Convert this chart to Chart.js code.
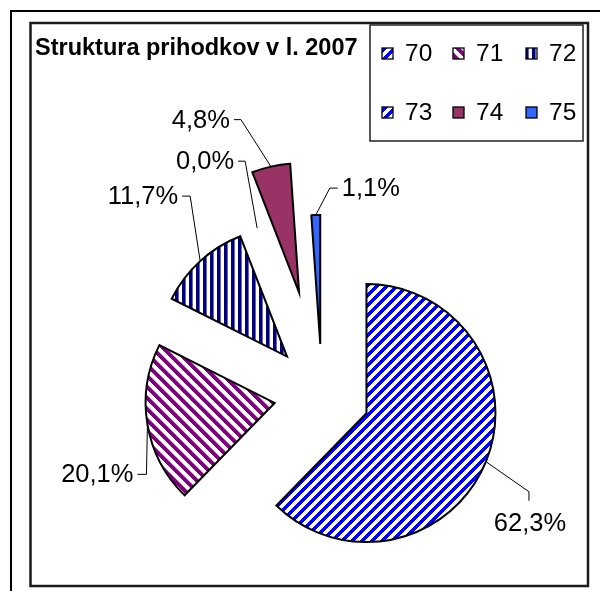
<!DOCTYPE html>
<html>
<head>
<meta charset="utf-8">
<script src="https://cdn.jsdelivr.net/npm/chart.js@4.4.1/dist/chart.umd.min.js"></script>
<style>
  html, body { margin: 0; padding: 0; background: #fff; }
  canvas { display: block; }
</style>
</head>
<body>
<canvas id="pie" width="600" height="591"></canvas>
<script>
// konti in deleži (v %)
const categories = ['70', '71', '72', '73', '74', '75'];
const shares = [62.3, 20.1, 11.7, 0.0, 4.8, 1.1];
const chartTitle = 'Struktura prihodkov v l. 2007';

// izvlek kosov in postavitev oznak (px)
const RADIUS = 129;
const explode = [48, 48, 52, 50, 105, 51];
const labelLayout = [
    { elbow: [43, 30], hook: [0, 9], align: 'center' },
    { elbow: [-1, 50], hook: [-9, 0], align: 'right' },
    { elbow: [-10, -65], hook: [-8, 0], align: 'right' },
    { elbow: [-12, -67], hook: [-7, 0], align: 'right' },
    { elbow: [-30, -47], hook: [-7, 0], align: 'right' },
    { elbow: [14, -27], hook: [8, 0], align: 'left' }
];

const FONT = '"Liberation Sans", Arial, sans-serif';

// črtasti vzorci, narisani po pikslih, da se ploščice lepo stikajo
function stripes(rgb, size, width, dir) {
    const c = document.createElement('canvas');
    c.width = size;
    c.height = size;
    const g = c.getContext('2d');
    const img = g.createImageData(size, size);
    for (let y = 0; y < size; y++) {
        for (let x = 0; x < size; x++) {
            let t;
            if (dir === 'v') t = x;
            else if (dir === '/') t = (x + y) % size;
            else t = (x - y + size) % size;
            // mehak rob
            const d = Math.min(Math.abs(t + 0.5 - width / 2), Math.abs(t + 0.5 - width / 2 - size));
            let a = Math.max(0, Math.min(1, width / 2 + 0.5 - d));
            const k = (y * size + x) * 4;
            img.data[k] = Math.round(255 + (rgb[0] - 255) * a);
            img.data[k + 1] = Math.round(255 + (rgb[1] - 255) * a);
            img.data[k + 2] = Math.round(255 + (rgb[2] - 255) * a);
            img.data[k + 3] = 255;
        }
    }
    g.putImageData(img, 0, 0);
    return g.createPattern(c, 'repeat');
}

const fills = [
    stripes([0, 0, 255], 10, 5, '/'),
    stripes([128, 0, 128], 11, 5.5, '\\'),
    stripes([0, 0, 128], 7, 3.6, 'v'),
    stripes([0, 0, 255], 10, 5, '/'),
    '#993366',
    '#3366ff'
];

function pct(v) {
    const total = shares.reduce((a, b) => a + b, 0);
    return (v / total * 100).toFixed(1).replace('.', ',') + '%';
}

// okvir, naslov in legenda
const framePlugin = {
    id: 'frame',
    beforeDraw(chart) {
        const ctx = chart.ctx;
        ctx.save();
        ctx.fillStyle = '#fff';
        ctx.fillRect(0, 0, chart.width, chart.height);
        ctx.strokeStyle = '#000';
        ctx.lineWidth = 2;
        ctx.strokeRect(11, 11, 640, 640);
        ctx.strokeStyle = '#1a1a1a';
        ctx.lineWidth = 2.5;
        ctx.strokeRect(30.5, 23, 557.5, 563);
        ctx.restore();
    },
    afterDraw(chart) {
        const ctx = chart.ctx;
        ctx.save();
        ctx.fillStyle = '#000';
        ctx.font = 'bold 23.5px ' + FONT;
        ctx.textBaseline = 'alphabetic';
        ctx.fillText(chartTitle, 35, 55);

        ctx.strokeStyle = '#222';
        ctx.lineWidth = 1.5;
        ctx.strokeRect(370, 25, 213, 116);

        const colX = [382, 453, 526];
        const rowY = [53.5, 112.5];
        ctx.font = '24.5px ' + FONT;
        ctx.textBaseline = 'middle';
        categories.forEach((cat, i) => {
            const x = colX[i % 3];
            const y = rowY[Math.floor(i / 3)];
            ctx.fillStyle = fills[i];
            ctx.fillRect(x, y - 5.5, 11, 11);
            ctx.strokeStyle = '#000';
            ctx.lineWidth = 1.3;
            ctx.strokeRect(x, y - 5.5, 11, 11);
            ctx.fillStyle = '#000';
            ctx.fillText(cat, x + 23, y + 1);
        });
        ctx.restore();
    }
};

// razmaknjeni kosi
const explodePlugin = {
    id: 'explode',
    beforeDatasetsDraw(chart) {
        const a = chart.chartArea;
        const cx = (a.left + a.right) / 2;
        const cy = (a.top + a.bottom) / 2;
        chart.getDatasetMeta(0).data.forEach((arc, i) => {
            const mid = (arc.startAngle + arc.endAngle) / 2;
            arc.x = cx + explode[i] * Math.cos(mid);
            arc.y = cy + explode[i] * Math.sin(mid);
        });
    }
};

// oznake s povezovalnimi črtami
const labelPlugin = {
    id: 'sliceLabels',
    afterDatasetsDraw(chart) {
        const ctx = chart.ctx;
        ctx.save();
        ctx.font = '25.5px ' + FONT;
        ctx.fillStyle = '#000';
        ctx.strokeStyle = '#000';
        ctx.lineWidth = 1;
        chart.getDatasetMeta(0).data.forEach((arc, i) => {
            const mid = (arc.startAngle + arc.endAngle) / 2;
            const ax = arc.x + RADIUS * Math.cos(mid);
            const ay = arc.y + RADIUS * Math.sin(mid);
            const L = labelLayout[i];
            const ex = ax + L.elbow[0], ey = ay + L.elbow[1];
            const hx = ex + L.hook[0], hy = ey + L.hook[1];
            ctx.beginPath();
            ctx.moveTo(ax, ay);
            ctx.lineTo(ex, ey);
            ctx.lineTo(hx, hy);
            ctx.stroke();
            ctx.textBaseline = 'middle';
            ctx.textAlign = L.align;
            let tx = hx, ty = hy + 1;
            if (L.align === 'center') { tx = hx + 1; ty = hy + 23; }
            if (L.align === 'right') tx = hx - 4;
            if (L.align === 'left') tx = hx + 4;
            ctx.fillText(pct(shares[i]), tx, ty);
        });
        ctx.restore();
    }
};

new Chart(document.getElementById('pie'), {
    type: 'pie',
    data: {
        labels: categories,
        datasets: [{
            data: shares,
            backgroundColor: fills,
            borderColor: '#000',
            borderWidth: 2,
            borderJoinStyle: 'miter',
            radius: RADIUS
        }]
    },
    options: {
        responsive: false,
        animation: false,
        layout: { padding: { left: 44, right: 0, top: 199, bottom: 0 } },
        plugins: {
            legend: { display: false },
            tooltip: { enabled: false },
            title: { display: false }
        }
    },
    plugins: [framePlugin, explodePlugin, labelPlugin]
});
</script>
</body>
</html>
